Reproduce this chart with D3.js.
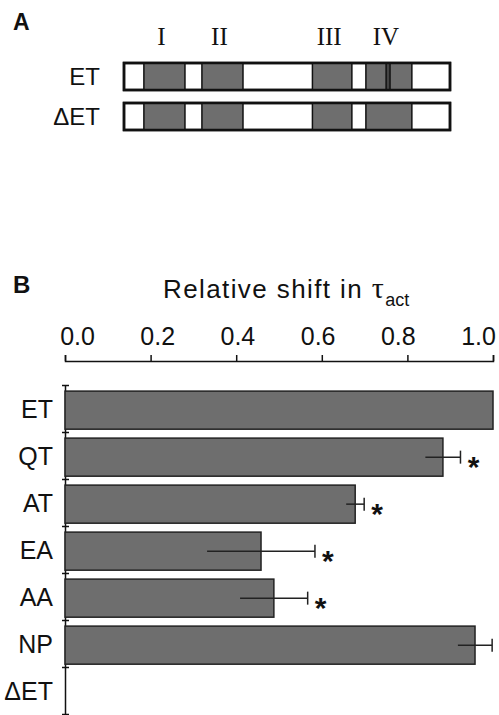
<!DOCTYPE html>
<html>
<head>
<meta charset="utf-8">
<script src="https://cdnjs.cloudflare.com/ajax/libs/d3/7.8.5/d3.min.js"></script>
<style>
  body { margin: 0; background: #fff; }
  svg { display: block; }
  text { font-family: "Liberation Sans", Arial, sans-serif; fill: #111; }
</style>
</head>
<body>
<div id="chart"></div>
<script>
// panel A: channel constructs, domain positions as fraction of sequence length
var constructs = ["ET", "\u0394ET"];
var domainNames = ["I", "II", "III", "IV"];
var domainStart = [0.061, 0.239, 0.578, 0.742];
var domainEnd = [0.187, 0.365, 0.699, 0.883];
var etLinker = [0.804, 0.816]; // segment only present in ET

// panel B: relative shift in tau_act
var categories = ["ET", "QT", "AT", "EA", "AA", "NP", "\u0394ET"];
var values = [1.0, 0.883, 0.678, 0.458, 0.488, 0.958, 0];
var errors = [0, 0.041, 0.021, 0.126, 0.079, 0.04, 0];
var significant = [false, true, true, true, true, false, false];
var tickValues = [0, 0.2, 0.4, 0.6, 0.8, 1.0];

var W = 499, H = 715;
var grey = "#6e6e6e";

var svg = d3.select("#chart").append("svg")
    .attr("width", W)
    .attr("height", H);

// ---------- panel A ----------
var xA = d3.scaleLinear().domain([0, 1]).range([124, 450]);
var yA = d3.scaleBand().domain(constructs).range([63, 130]).paddingInner(0.325);

svg.append("text")
    .attr("x", 13).attr("y", 30)
    .style("font-size", "23px").style("font-weight", "bold")
    .text("A");

var rows = svg.selectAll("g.construct")
    .data(constructs)
    .enter().append("g")
    .attr("class", "construct");

rows.append("text")
    .attr("x", 100)
    .attr("y", function(d) { return yA(d) + yA.bandwidth() / 2 + 8; })
    .attr("text-anchor", "end")
    .style("font-size", "24px")
    .text(function(d) { return d; });

rows.append("rect")
    .attr("x", xA(0)).attr("y", function(d) { return yA(d); })
    .attr("width", xA(1) - xA(0)).attr("height", yA.bandwidth())
    .attr("fill", "#fff").attr("stroke", "#111").attr("stroke-width", 2.5);

rows.each(function(c) {
  var g = d3.select(this);
  g.selectAll("rect.dom")
      .data(domainNames)
      .enter().append("rect")
      .attr("class", "dom")
      .attr("x", function(d, i) { return xA(domainStart[i]); })
      .attr("y", yA(c))
      .attr("width", function(d, i) { return xA(domainEnd[i]) - xA(domainStart[i]); })
      .attr("height", yA.bandwidth())
      .attr("fill", grey).attr("stroke", "#111").attr("stroke-width", 1.5);
  if (c === "ET") {
    g.append("rect")
        .attr("x", xA(etLinker[0])).attr("y", yA(c))
        .attr("width", xA(etLinker[1]) - xA(etLinker[0]))
        .attr("height", yA.bandwidth())
        .attr("fill", "#444").attr("stroke", "#111").attr("stroke-width", 1.5);
  }
  // redraw outer border on top so it stays crisp
  g.append("rect")
      .attr("x", xA(0)).attr("y", yA(c))
      .attr("width", xA(1) - xA(0)).attr("height", yA.bandwidth())
      .attr("fill", "none").attr("stroke", "#111").attr("stroke-width", 2.5);
});

svg.selectAll("text.roman")
    .data(domainNames)
    .enter().append("text")
    .attr("class", "roman")
    .attr("x", function(d, i) { return (xA(domainStart[i]) + xA(domainEnd[i])) / 2 - 3; })
    .attr("y", 45)
    .attr("text-anchor", "middle")
    .style("font-family", "'Liberation Serif', 'Times New Roman', serif")
    .style("font-size", "25px")
    .text(function(d) { return d; });

// ---------- panel B ----------
var x = d3.scaleLinear().domain([0, 1]).range([65, 493]);
var y = d3.scaleBand().domain(categories).range([385, 714]);
// tick labels sit on their own, slightly narrower spacing
var xLab = d3.scaleLinear().domain([0, 1]).range([77, 478]);

svg.append("text")
    .attr("x", 13).attr("y", 293)
    .style("font-size", "24px").style("font-weight", "bold")
    .text("B");

var title = svg.append("text")
    .attr("x", 163).attr("y", 298)
    .style("font-size", "26px")
    .style("letter-spacing", "1.4px");
title.append("tspan").text("Relative shift in ");
title.append("tspan")
    .style("font-family", "'Liberation Serif', 'Times New Roman', serif")
    .style("font-size", "30px")
    .text("\u03c4");
title.append("tspan")
    .attr("dy", 8)
    .style("font-size", "18px")
    .style("letter-spacing", "0px")
    .text("act");

// top axis ticks
svg.append("g")
    .attr("transform", "translate(0,361)")
    .call(d3.axisTop(x).tickValues(tickValues).tickSize(6).tickFormat(""))
    .call(function(g) {
      g.selectAll("line, path").attr("stroke", "#111").attr("stroke-width", 1.5);
    });

// top axis labels
svg.append("g")
    .attr("transform", "translate(0,345)")
    .call(d3.axisTop(xLab).tickValues(tickValues).tickSize(0).tickPadding(0)
      .tickFormat(d3.format(".1f")))
    .call(function(g) {
      g.select(".domain").remove();
      g.selectAll("text")
          .attr("fill", "#111")
          .style("font-family", "'Liberation Sans', Arial, sans-serif")
          .style("font-size", "25px");
    });

// left axis with ticks at category boundaries
var yEdge = d3.scaleLinear().domain([0, categories.length]).range([385, 714]);
var edges = d3.range(categories.length + 1);
svg.append("g")
    .attr("transform", "translate(65,0)")
    .call(d3.axisLeft(yEdge).tickValues(edges).tickSize(3).tickSizeOuter(0).tickFormat(""))
    .call(function(g) {
      g.selectAll("line, path").attr("stroke", "#111").attr("stroke-width", 1.5);
    });
svg.append("g")
    .attr("transform", "translate(65,0)")
    .call(d3.axisRight(yEdge).tickValues(edges).tickSize(4).tickFormat(""))
    .call(function(g) {
      g.select(".domain").remove();
      g.selectAll("line").attr("stroke", "#111").attr("stroke-width", 1.5);
    });

// category labels
svg.selectAll("text.cat")
    .data(categories)
    .enter().append("text")
    .attr("class", "cat")
    .attr("x", 53)
    .attr("y", function(d) { return y(d) + y.bandwidth() / 2 + 9; })
    .attr("text-anchor", "end")
    .style("font-size", "25px")
    .text(function(d) { return d; });

// bars
var barOff = y.bandwidth() * 0.13, barH = y.bandwidth() * 0.81;
svg.selectAll("rect.bar")
    .data(categories.filter(function(d, i) { return values[i] > 0; }))
    .enter().append("rect")
    .attr("class", "bar")
    .attr("x", x(0))
    .attr("y", function(d) { return y(d) + barOff; })
    .attr("width", function(d) { return x(values[categories.indexOf(d)]) - x(0); })
    .attr("height", barH)
    .attr("fill", grey)
    .attr("stroke", "#222")
    .attr("stroke-width", 1.5);

// error bars
var errIdx = d3.range(categories.length).filter(function(i) { return errors[i] > 0; });
var eb = svg.selectAll("g.err")
    .data(errIdx)
    .enter().append("g")
    .attr("class", "err")
    .attr("stroke", "#222")
    .attr("stroke-width", 1.5);
function cy(i) { return y(categories[i]) + barOff + barH / 2; }
eb.append("line")
    .attr("x1", function(i) { return x(values[i] - errors[i]); })
    .attr("x2", function(i) { return x(values[i] + errors[i]); })
    .attr("y1", cy).attr("y2", cy);
eb.append("line")
    .attr("x1", function(i) { return x(values[i] + errors[i]); })
    .attr("x2", function(i) { return x(values[i] + errors[i]); })
    .attr("y1", function(i) { return cy(i) - 6.5; })
    .attr("y2", function(i) { return cy(i) + 6.5; });

// significance stars
svg.selectAll("text.star")
    .data(errIdx.filter(function(i) { return significant[i]; }))
    .enter().append("text")
    .attr("class", "star")
    .attr("x", function(i) { return x(values[i] + errors[i]) + 13; })
    .attr("y", function(i) { return cy(i) + 20; })
    .attr("text-anchor", "middle")
    .style("font-size", "30px")
    .style("font-weight", "bold")
    .text("*");
</script>
</body>
</html>
